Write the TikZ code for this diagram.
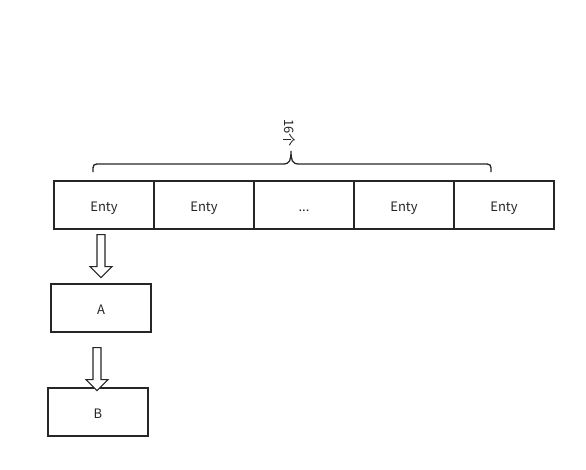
\documentclass[tikz,border=0pt]{standalone}
\usepackage{fontspec}
\setmainfont{Noto Sans CJK SC}
\begin{document}
\begin{tikzpicture}[x=1pt,y=-1pt,
  box/.style={draw=black!85,line width=1.3pt,minimum width=100pt,minimum height=48pt,inner sep=0pt,text height=13pt,text depth=0pt,font=\fontsize{13}{14}\selectfont,text=black!85},
  blockarrow/.style={draw=black!85,line width=1.1pt,fill=white,line join=miter}]
\useasboundingbox (0,0) rectangle (586,469);
\node[box] (e1) at (104,205) {Enty};
\node[box] (e2) at (204,205) {Enty};
\node[box] (e3) at (304,205) {...};
\node[box] (e4) at (404,205) {Enty};
\node[box] (e5) at (504,205) {Enty};
\node[box] (a) at (101,308) {A};
\node[box] (b) at (98,412) {B};
% brace
\draw[line width=1.3pt,black!85] (93,172) .. controls (93,164) .. (101,164) -- (283,164)
  .. controls (290,164) and (291,160) .. (291,151)
  .. controls (291,160) and (292,164) .. (299,164) -- (483,164)
  .. controls (491,164) .. (491,172);
\node[rotate=-90,font=\fontsize{13}{14}\selectfont,text=black!85] (lbl) at (289,133) {16个};
% block arrows
\draw[blockarrow] ([xshift=-3pt,yshift=-5pt]e1.south) -- ++(-4,0) -- ++(0,32) -- ++(-7,0) -- ++(11,11) -- ++(11,-11) -- ++(-7,0) -- ++(0,-32) -- cycle;
\draw[blockarrow] ([xshift=-4pt,yshift=-15pt]a.south) -- ++(-4,0) -- ++(0,32) -- ++(-7,0) -- ++(11,11) -- ++(11,-11) -- ++(-7,0) -- ++(0,-32) -- cycle;
\end{tikzpicture}
\end{document}
